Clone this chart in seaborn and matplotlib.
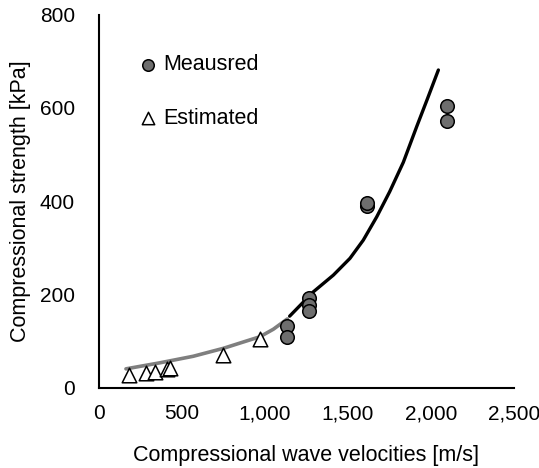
import matplotlib
matplotlib.use("Agg")
import matplotlib.pyplot as plt
import matplotlib.ticker as mticker
import seaborn as sns
import pandas as pd

# Data
measured_v = [1132, 1132, 1267, 1267, 1267, 1614, 1614, 2097, 2097]
measured_s = [132, 108, 193, 177, 164, 390, 395, 604, 571]

estimated_v = [183, 284, 340, 414, 430, 747, 974]
estimated_s = [27, 32, 34, 39, 41, 70, 103]

gray_curve_v = [165, 370, 570, 751, 972, 1052, 1136]
gray_curve_s = [40, 53, 67, 84, 109, 125, 147]

black_curve_v = [1150, 1292, 1413, 1513, 1593, 1674, 1752, 1834, 1915, 1980, 2045]
black_curve_s = [153, 205, 241, 277, 316, 366, 420, 483, 560, 620, 681]

x_ticks = [0, 500, 1000, 1500, 2000, 2500]
y_ticks = [0, 200, 400, 600, 800]

sns.set_theme(style="white")
plt.rcParams['font.family'] = ['Liberation Sans', 'DejaVu Sans']
plt.rcParams['text.color'] = 'black'
plt.rcParams['axes.labelcolor'] = 'black'

fig = plt.figure(figsize=(5.39, 4.68), dpi=100)
ax = fig.add_axes([0.1828, 0.172, 0.7708, 0.797])

df_gray = pd.DataFrame({"v": gray_curve_v, "s": gray_curve_s})
df_black = pd.DataFrame({"v": black_curve_v, "s": black_curve_s})
sns.lineplot(data=df_gray, x="v", y="s", ax=ax, color="#7f7f7f", lw=2.6,
             estimator=None, sort=True, legend=False)
sns.lineplot(data=df_black, x="v", y="s", ax=ax, color="black", lw=2.4,
             estimator=None, sort=True, legend=False)

df_m = pd.DataFrame({"v": measured_v, "s": measured_s})
df_e = pd.DataFrame({"v": estimated_v, "s": estimated_s})
sns.scatterplot(data=df_m, x="v", y="s", ax=ax, marker="o", s=95,
                color="#6e6e6e", edgecolor="black", linewidth=1.1,
                label="Meausred", zorder=5)
sns.scatterplot(data=df_e, x="v", y="s", ax=ax, marker="^", s=110,
                color="white", edgecolor="black", linewidth=1.1,
                label="Estimated", zorder=5)

ax.set_xlim(0, 2500)
ax.set_ylim(0, 800)
ax.set_xticks(x_ticks)
ax.set_yticks(y_ticks)
ax.xaxis.set_major_formatter(mticker.FuncFormatter(lambda v, p: f"{int(v):,}"))
ax.set_xlabel("Compressional wave velocities [m/s]", fontsize=15.5)
ax.set_ylabel("Compressional strength [kPa]", fontsize=15.5)
ax.xaxis.set_label_coords(0.5, -0.155)
ax.yaxis.set_label_coords(-0.162, 0.5)
ax.tick_params(axis="both", direction="in", length=6, width=1.2, labelsize=15,
               colors="black")
ax.tick_params(axis="y", pad=17)
ax.tick_params(axis="x", pad=12)

for side in ["top", "right"]:
    ax.spines[side].set_visible(False)
for side in ["left", "bottom"]:
    ax.spines[side].set_color("black")
    ax.spines[side].set_linewidth(1.5)

leg = ax.legend(loc="upper left", bbox_to_anchor=(0.046, 0.945), frameon=False,
                fontsize=15.5, labelspacing=1.5, handletextpad=0.2,
                handlelength=1.0, markerscale=0.85)

fig.savefig("out.png", dpi=100)
